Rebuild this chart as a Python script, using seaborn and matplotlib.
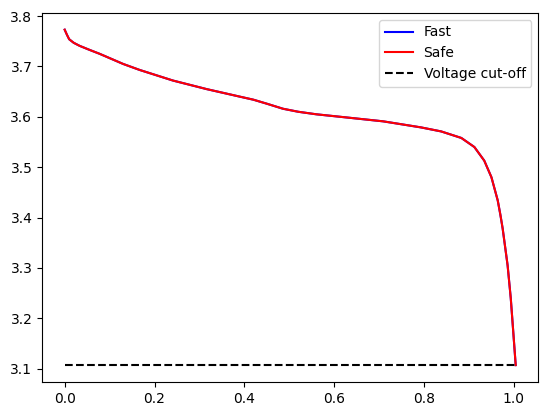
import numpy as np
import pandas as pd
import matplotlib
matplotlib.use('Agg')
import matplotlib.pyplot as plt
import seaborn as sns

# 방전 곡선
soc = [0.0, 0.005, 0.01, 0.02, 0.033, 0.055, 0.078, 0.13, 0.167, 0.241,
       0.316, 0.39, 0.42, 0.45, 0.486, 0.52, 0.56, 0.635, 0.709, 0.793,
       0.838, 0.883, 0.912, 0.934, 0.95, 0.964, 0.97, 0.975, 0.986, 0.993,
       0.998, 1.004]
voltage_fast = [3.773, 3.763, 3.754, 3.747, 3.741, 3.733, 3.725, 3.705, 3.693,
                3.672, 3.655, 3.640, 3.634, 3.626, 3.616, 3.610, 3.605, 3.598,
                3.591, 3.579, 3.571, 3.558, 3.540, 3.513, 3.480, 3.434, 3.405,
                3.378, 3.305, 3.240, 3.180, 3.107]
voltage_safe = list(voltage_fast)
cutoff = 3.107
cutoff_x = [0.0, 1.004]

df = pd.DataFrame({'soc': soc, 'Fast': voltage_fast, 'Safe': voltage_safe})

fig, ax = plt.subplots(figsize=(5.47, 4.16), dpi=100)
fig.subplots_adjust(left=0.077, right=0.984, bottom=0.082, top=0.969)

sns.lineplot(data=df, x='soc', y='Fast', color='blue', label='Fast', ax=ax)
sns.lineplot(data=df, x='soc', y='Safe', color='red', label='Safe', ax=ax)
sns.lineplot(x=cutoff_x, y=[cutoff, cutoff], color='black', linestyle='--',
             label='Voltage cut-off', ax=ax)

ax.set_xlabel('')
ax.set_ylabel('')
ax.legend(loc='upper right')

fig.savefig('out.png', dpi=100)
